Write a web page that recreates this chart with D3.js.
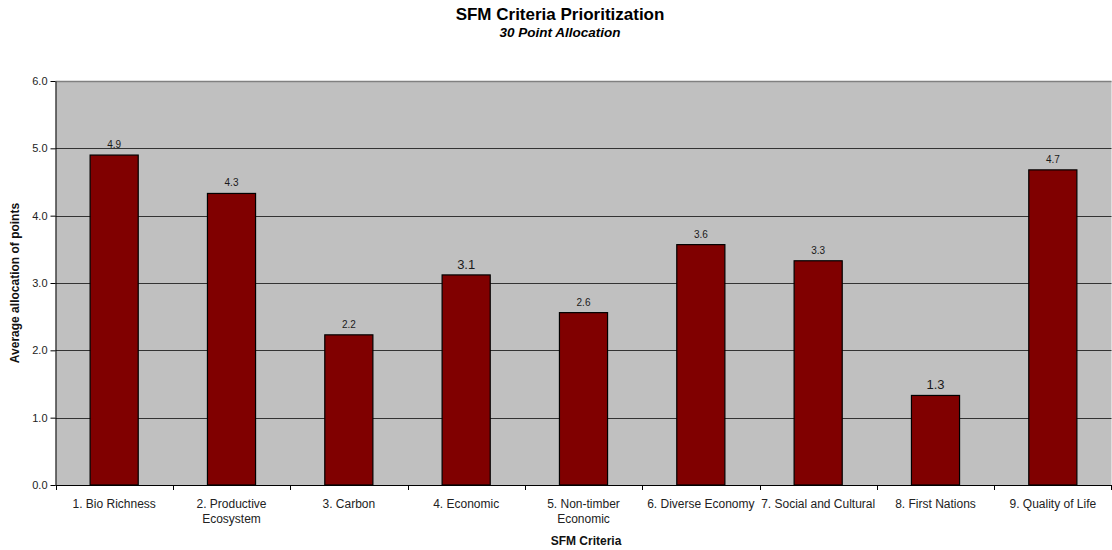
<!DOCTYPE html>
<html>
<head>
<meta charset="utf-8">
<script src="https://cdn.jsdelivr.net/npm/d3@7"></script>
<style>
  html, body { margin: 0; padding: 0; background: #ffffff; }
  svg { display: block; font-family: Arial, "Liberation Sans", sans-serif; }
</style>
</head>
<body>
<svg id="chart" width="1112" height="550"></svg>
<script>
// Criteria and their average allocation out of 30 points
const categories = [
  ["1. Bio Richness"],
  ["2. Productive", "Ecosystem"],
  ["3. Carbon"],
  ["4. Economic"],
  ["5. Non-timber", "Economic"],
  ["6. Diverse Economy"],
  ["7. Social and Cultural"],
  ["8. First Nations"],
  ["9. Quality of Life"]
];
const values = [4.9, 4.33, 2.23, 3.12, 2.56, 3.57, 3.33, 1.33, 4.68];
// two of the value labels are set in a larger type
const labelSizes = [10, 10, 10, 13, 10, 10, 10, 13, 10];
const yTicks = [0, 1, 2, 3, 4, 5, 6];

const svg = d3.select("#chart");
const margin = { left: 55.5, right: 1111.5, top: 81, bottom: 485 };

const keys = categories.map(c => c.join(" "));
const x = d3.scaleBand().domain(keys).range([margin.left, margin.right]).paddingInner(0.59).paddingOuter(0.295);
const xOuter = d3.scaleBand().domain(keys).range([margin.left, margin.right]);
const y = d3.scaleLinear().domain([0, 6]).range([margin.bottom, margin.top]);

// plot background
svg.append("rect")
  .attr("x", margin.left).attr("y", margin.top)
  .attr("width", margin.right - margin.left).attr("height", margin.bottom - margin.top)
  .attr("fill", "#c0c0c0");

// horizontal gridlines
svg.append("g").selectAll("line").data(yTicks.filter(t => t > 0)).join("line")
  .attr("x1", margin.left).attr("x2", margin.right)
  .attr("y1", d => Math.round(y(d)) + 0.5).attr("y2", d => Math.round(y(d)) + 0.5)
  .attr("stroke", d => d === 6 ? "#808080" : "#333333")
  .attr("stroke-width", d => d === 6 ? 1.5 : 1);

// bars
svg.append("g").selectAll("rect").data(values).join("rect")
  .attr("x", (d, i) => x(keys[i]))
  .attr("y", d => y(d))
  .attr("width", x.bandwidth())
  .attr("height", d => y(0) - y(d))
  .attr("fill", "#800000")
  .attr("stroke", "#000000")
  .attr("stroke-width", 1.2);

// value labels
svg.append("g").selectAll("text").data(values).join("text")
  .attr("x", (d, i) => x(keys[i]) + x.bandwidth() / 2)
  .attr("y", (d, i) => y(d) - (labelSizes[i] > 10 ? 6 : 7))
  .attr("text-anchor", "middle")
  .attr("font-size", (d, i) => labelSizes[i])
  .attr("fill", "#1a1a1a")
  .text(d => d3.format(".1f")(d));

// y axis
const yAxis = d3.axisLeft(y).tickValues(yTicks).tickSize(5).tickSizeOuter(0).tickFormat(d3.format(".1f"));
const gy = svg.append("g").attr("transform", `translate(${margin.left},0)`).call(yAxis);
gy.select(".domain").attr("stroke", "#000");
gy.selectAll(".tick line").attr("stroke", "#000");
gy.selectAll(".tick text").attr("font-size", 11).attr("fill", "#222").attr("font-family", "Arial, 'Liberation Sans', sans-serif").attr("x", -8);

// x axis: ticks at category boundaries
const gx = svg.append("g");
gx.append("line")
  .attr("x1", margin.left).attr("x2", margin.right)
  .attr("y1", margin.bottom + 0.5).attr("y2", margin.bottom + 0.5)
  .attr("stroke", "#000");
const bounds = keys.map(k => xOuter(k)).concat([margin.right - 1]);
gx.selectAll("line.tk").data(bounds).join("line").attr("class", "tk")
  .attr("x1", d => Math.round(d) + 0.5).attr("x2", d => Math.round(d) + 0.5)
  .attr("y1", margin.bottom).attr("y2", margin.bottom + 5)
  .attr("stroke", "#000");

// category labels
const cat = gx.selectAll("text.cat").data(categories).join("text").attr("class", "cat")
  .attr("x", (d, i) => xOuter(keys[i]) + xOuter.bandwidth() / 2)
  .attr("y", 508)
  .attr("text-anchor", "middle")
  .attr("font-size", 12)
  .attr("fill", "#222");
cat.selectAll("tspan").data(d => d).join("tspan")
  .attr("x", function () { return d3.select(this.parentNode).attr("x"); })
  .attr("dy", (d, i) => i === 0 ? 0 : 15)
  .text(d => d);

// titles
svg.append("text").attr("x", 560).attr("y", 20).attr("text-anchor", "middle")
  .attr("font-size", 17).attr("font-weight", "bold").text("SFM Criteria Prioritization");
svg.append("text").attr("x", 560).attr("y", 37).attr("text-anchor", "middle")
  .attr("font-size", 13.5).attr("font-weight", "bold").attr("font-style", "italic").text("30 Point Allocation");

// axis titles
svg.append("text").attr("x", 586).attr("y", 545).attr("text-anchor", "middle")
  .attr("font-size", 12).attr("font-weight", "bold").attr("fill", "#111").text("SFM Criteria");
svg.append("text").attr("transform", `translate(19,${(margin.top + margin.bottom) / 2}) rotate(-90)`)
  .attr("text-anchor", "middle").attr("font-size", 12).attr("font-weight", "bold").attr("fill", "#111")
  .text("Average allocation of points");
</script>
</body>
</html>
